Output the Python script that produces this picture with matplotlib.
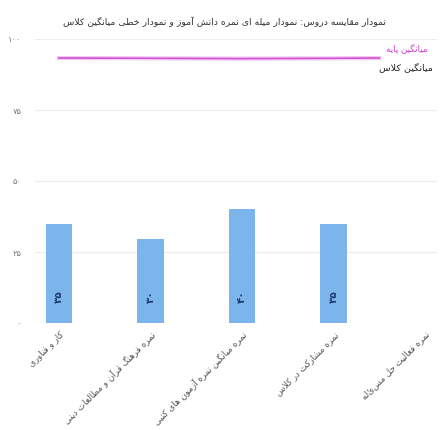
import re
import matplotlib
matplotlib.use("Agg")
import matplotlib.pyplot as plt

# ---------------- data ----------------
categories = [
    "کار و فناوری",
    "نمره فرهنگ قرآن و مطالعات دینی",
    "نمره میانگین نمره آزمون های کتبی",
    "نمره مشارکت در کلاس",
    "نمره فعالیت حل مسئله",
]
student_scores = [35, 29.5, 40, 35]
avg_x = [0, 1, 2, 3, 3.5]
grade_avg = [93.3, 93.2, 93.1, 93.2, 93.3]
class_avg = [93.3, 93.2, 93.1, 93.2, 93.3]
y_ticks = [0, 25, 50, 75, 100]
title = "نمودار مقایسه دروس: نمودار میله ای نمره دانش آموز و نمودار خطی میانگین کلاس"
grade_label = "میانگین پایه"
class_label = "میانگین کلاس"

# ---------------- minimal Persian shaping ----------------
def _r(a):
    return (a, a + 1, a + 2, a + 3)

FORMS = {
    'ا': (0xFE8D, 0xFE8E, None, None), 'آ': (0xFE81, 0xFE82, None, None),
    'أ': (0xFE83, 0xFE84, None, None), 'ب': _r(0xFE8F), 'پ': _r(0xFB56),
    'ت': _r(0xFE95), 'ث': _r(0xFE99), 'ج': _r(0xFE9D), 'چ': _r(0xFB7A),
    'ح': _r(0xFEA1), 'خ': _r(0xFEA5), 'د': (0xFEA9, 0xFEAA, None, None),
    'ذ': (0xFEAB, 0xFEAC, None, None), 'ر': (0xFEAD, 0xFEAE, None, None),
    'ز': (0xFEAF, 0xFEB0, None, None), 'ژ': (0xFB8A, 0xFB8B, None, None),
    'س': _r(0xFEB1), 'ش': _r(0xFEB5), 'ص': _r(0xFEB9), 'ض': _r(0xFEBD),
    'ط': _r(0xFEC1), 'ظ': _r(0xFEC5), 'ع': _r(0xFEC9), 'غ': _r(0xFECD),
    'ف': _r(0xFED1), 'ق': _r(0xFED5), 'ک': _r(0xFB8E), 'گ': _r(0xFB92),
    'ل': _r(0xFEDD), 'م': _r(0xFEE1), 'ن': _r(0xFEE5),
    'و': (0xFEED, 0xFEEE, None, None), 'ه': _r(0xFEE9), 'ی': _r(0xFBFC),
    'ة': (0xFE93, 0xFE94, None, None),
}
LIG = {'ا': (0xFEFB, 0xFEFC), 'آ': (0xFEF5, 0xFEF6), 'أ': (0xFEF7, 0xFEF8)}


def _shape(s):
    ch = list(s)
    n = len(ch)
    out = []
    i = 0
    while i < n:
        c = ch[i]
        if c == '\u200c':
            i += 1
            continue
        if c not in FORMS:
            out.append(c)
            i += 1
            continue
        prev = ch[i - 1] if i > 0 else None
        jp = prev in FORMS and FORMS[prev][2] is not None
        if c == 'ل' and i + 1 < n and ch[i + 1] in LIG:
            lg = LIG[ch[i + 1]]
            out.append(chr(lg[1] if jp else lg[0]))
            i += 2
            continue
        nxt = ch[i + 1] if i + 1 < n else None
        f = FORMS[c]
        jn = f[2] is not None and nxt in FORMS
        if jp and jn:
            g = f[3]
        elif jp:
            g = f[1]
        elif jn:
            g = f[2]
        else:
            g = f[0]
        out.append(chr(g))
        i += 1
    return ''.join(out)


def fa(s):
    sh = _shape(s)
    toks = re.findall(r'[0-9\u06F0-\u06F9]+|[^0-9\u06F0-\u06F9]+', sh)
    return ''.join(t if t[0].isdigit() else t[::-1] for t in reversed(toks))


def fa_num(v):
    return str(int(round(v))).translate(str.maketrans("0123456789", "۰۱۲۳۴۵۶۷۸۹"))

# ---------------- plot ----------------
plt.rcParams['font.family'] = ['DejaVu Sans']
fig = plt.figure(figsize=(4.45, 4.30), dpi=100)
ax = fig.add_axes([35 / 445, 1 - 323 / 430, 402 / 445, 284 / 430])

x = list(range(len(categories)))
bx = x[:len(student_scores)]
ax.bar(bx, student_scores, width=0.29, color='#7cb5ec', zorder=3)
for xi, v in zip(bx, student_scores):
    ax.text(xi, 7, fa_num(v), rotation=90, ha='center', va='bottom',
            fontsize=7.5, fontweight='bold', color='#1d3c6e', zorder=4)

ax.plot(avg_x, class_avg, color='#333333', lw=1.0, zorder=4)
ax.plot(avg_x, grade_avg, color='#f0b8f0', lw=3.0, zorder=5, alpha=0.8)
ax.plot(avg_x, grade_avg, color='#d652d6', lw=1.1, zorder=6)
ax.text(avg_x[-1] + 0.07, grade_avg[-1] + 1.8, fa(grade_label), color='#d040d0',
        fontsize=6.3, ha='left', va='bottom')
ax.text(avg_x[-1] + 0.0, grade_avg[-1] - 1.5, fa(class_label), color='#222222',
        fontsize=6.8, ha='left', va='top')

ax.set_xlim(-0.26, 4.13)
ax.set_ylim(0, 100)
ax.set_yticks(y_ticks)
ax.set_yticklabels([fa_num(t) for t in y_ticks], fontsize=6, color='#777777')
ax.set_xticks(x)
ax.set_xticklabels([fa(c) for c in categories], rotation=45, ha='right',
                   rotation_mode='anchor', fontsize=6.3, color='#555555')
ax.tick_params(axis='y', length=0, pad=10)
ax.tick_params(axis='x', length=0, pad=5)
ax.grid(axis='y', color='#ececec', lw=0.8, zorder=0)
for sp in ax.spines.values():
    sp.set_visible(False)

fig.text(224 / 445, 1 - 22 / 430, fa(title), ha='center', va='center',
         fontsize=6.7, color='#333333')

fig.savefig('out.png', dpi=100, facecolor='white')
